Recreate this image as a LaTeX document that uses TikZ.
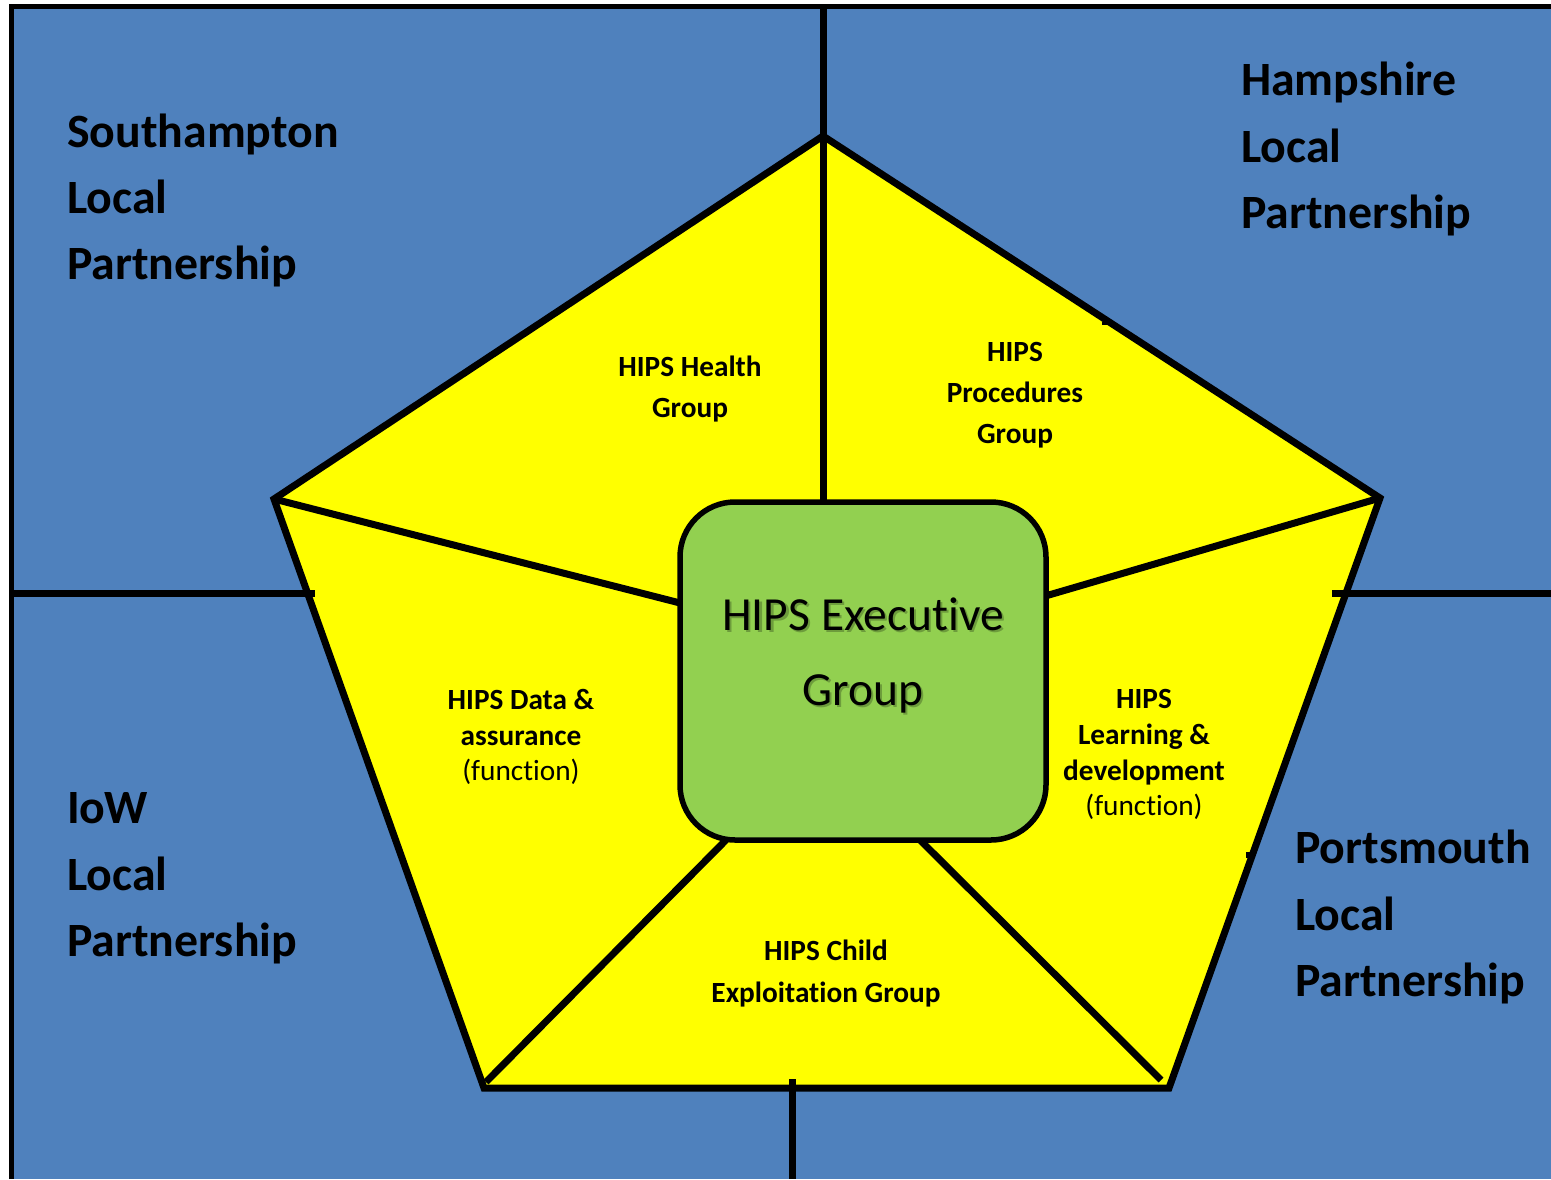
\documentclass[tikz,border=0pt]{standalone}
\usepackage{fontspec}
\setmainfont{Carlito}[Ligatures=NoCommon]
\definecolor{regionblue}{HTML}{4F81BD}
\definecolor{pentyellow}{HTML}{FFFF00}
\definecolor{execgreen}{HTML}{92D050}
\begin{document}
\begin{tikzpicture}[x=1pt,y=-1pt,line join=miter,
  region/.style={font=\bfseries\fontsize{47.8}{57}\selectfont,anchor=base west,inner sep=0pt},
  grouplbl/.style={font=\bfseries\fontsize{29.3}{35}\selectfont,anchor=base,inner sep=0pt},
  groupreg/.style={font=\fontsize{29.3}{35}\selectfont,anchor=base,inner sep=0pt},
  execlbl/.style={font=\fontsize{47.5}{57}\selectfont,anchor=base,inner sep=0pt},
  execshade/.style={execlbl,text=execgreen!45!black,opacity=0.45},
  divider/.style={line width=7pt},
  spoke/.style={line width=7pt},
  pentedge/.style={line width=7pt,fill=pentyellow},
  execbox/.style={draw,line width=5.5pt,fill=execgreen,rounded corners=55pt,minimum width=366pt,minimum height=338pt,inner sep=0pt}]
\useasboundingbox (0,0) rectangle (1551,1179);
% background regions
\fill[regionblue] (11,6) rectangle (1551,1179);
\draw[line width=5pt] (11,1179) -- (11,6) -- (1551,6);
% pentagon vertices
\coordinate (vT) at (823,136);
\coordinate (vL) at (274,499);
\coordinate (vR) at (1380,498);
\coordinate (vBL) at (484,1088);
\coordinate (vBR) at (1169,1088);
\draw[pentedge] (vT) -- (vR) -- (vBR) -- (vBL) -- (vL) -- cycle;
% dividers between regions
\coordinate (dTop) at (823,6);
\coordinate (dL1) at (11,593);
\coordinate (dL2) at (315,593);
\coordinate (dR1) at (1332,593);
\coordinate (dR2) at (1551,593);
\coordinate (dB1) at (792,1079);
\coordinate (dB2) at (792,1179);
\draw[divider] (dL1) -- (dL2);
\draw[divider] (dR1) -- (dR2);
\draw[divider] (dB1) -- (dB2);
% small notches
\coordinate (n1a) at (1102,322);
\coordinate (n1b) at (1112,325);
\fill (n1a) rectangle (n1b);
\coordinate (n2a) at (1246,852);
\coordinate (n2b) at (1250,858);
\fill (n2a) rectangle (n2b);
% spokes
\coordinate (eT) at (823,505);
\coordinate (eL) at (684,604);
\coordinate (eR) at (1042,597);
\coordinate (eBL) at (726,840);
\coordinate (eBR) at (920,840);
\coordinate (sBL) at (486,1082);
\coordinate (sBR) at (1161,1080);
\draw[spoke] (dTop) -- (vT) -- (eT);
\draw[spoke] (vL) -- (eL);
\draw[spoke] (vR) -- (eR);
\draw[spoke] (sBL) -- (eBL);
\draw[spoke] (sBR) -- (eBR);
% executive box
\node[execbox] (exec) at (863,671) {};
\node[execshade] (execs1) at (865.3,632.3) {HIPS Executive};
\node[execshade] (execs2) at (865.3,707.3) {Group};
\node[execlbl] (exec1) at (863,630) {HIPS Executive};
\node[execlbl] (exec2) at (863,705) {Group};
% region labels
\node[region] (south1) at (67,147) {Southampton};
\node[region] (south2) at (67,213) {Local};
\node[region] (south3) at (67,279) {Partnership};
\node[region] (hants1) at (1241,95) {Hampshire};
\node[region] (hants2) at (1241,162) {Local};
\node[region] (hants3) at (1241,228) {Partnership};
\node[region] (iow1) at (67,823) {IoW};
\node[region] (iow2) at (67,890) {Local};
\node[region] (iow3) at (67,956) {Partnership};
\node[region] (ports1) at (1295,863) {Portsmouth};
\node[region] (ports2) at (1295,930) {Local};
\node[region] (ports3) at (1295,996) {Partnership};
% group labels
\node[grouplbl] (health1) at (690,376) {HIPS Health};
\node[grouplbl] (health2) at (690,417) {Group};
\node[grouplbl] (proc1) at (1015,361) {HIPS};
\node[grouplbl] (proc2) at (1015,402) {Procedures};
\node[grouplbl] (proc3) at (1015,443) {Group};
\node[grouplbl] (data1) at (521,709) {HIPS Data \&};
\node[grouplbl] (data2) at (521,745) {assurance};
\node[groupreg] (data3) at (521,780) {(function)};
\node[grouplbl] (learn1) at (1144,708) {HIPS};
\node[grouplbl] (learn2) at (1144,744) {Learning \&};
\node[grouplbl] (learn3) at (1144,780) {development};
\node[groupreg] (learn4) at (1144,815) {(function)};
\node[grouplbl] (child1) at (826,960) {HIPS Child};
\node[grouplbl] (child2) at (826,1002) {Exploitation Group};
\end{tikzpicture}
\end{document}
